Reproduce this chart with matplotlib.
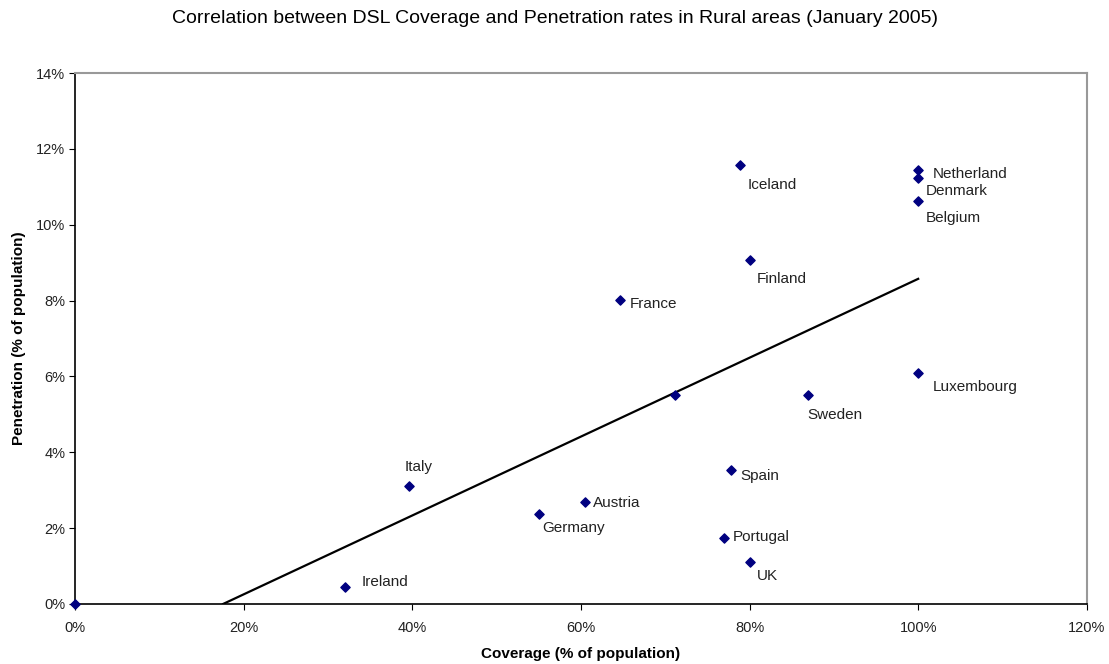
import matplotlib
matplotlib.use("Agg")
import matplotlib.pyplot as plt
from matplotlib.ticker import PercentFormatter
import numpy as np

plt.rcParams['font.family'] = ['Liberation Sans', 'DejaVu Sans']

# coverage / penetration, % of population
countries = ['', 'Ireland', 'Italy', 'Germany', 'Austria', 'France', '',
             'Portugal', 'Spain', 'UK', 'Iceland', 'Finland', 'Sweden',
             'Luxembourg', 'Netherland', 'Denmark', 'Belgium']
coverage = [0, 32.0, 39.6, 55.0, 60.5, 64.6, 71.2, 77.0, 77.8, 80.1,
            78.9, 80.0, 86.9, 100, 100, 100, 100]
penetration = [0, 0.45, 3.11, 2.37, 2.69, 8.02, 5.51, 1.74, 3.54, 1.11,
               11.58, 9.08, 5.51, 6.09, 11.45, 11.24, 10.63]

# label offsets in pixels (dx, dy)
offsets = [(0, 0), (17, 5), (-4, 19), (4, -14), (8, -1), (10, -4), (0, 0),
           (9, 1), (9, -6), (6, -14), (7, -20), (7, -19), (0, -20),
           (15, -14), (15, -4), (8, -13), (8, -17)]

fig = plt.figure(figsize=(11.09, 6.64), dpi=100)
ax = fig.add_axes([0.0676, 0.0904, 0.9124, 0.7996])

x = np.array(coverage)
y = np.array(penetration)

# linear trend, drawn from where it crosses zero to the max coverage
slope, intercept = np.polyfit(x, y, 1)
x0 = -intercept / slope
xt = np.array([x0, x.max()])
ax.plot(xt, slope * xt + intercept, color='black', lw=1.6, zorder=2)

ax.scatter(x, y, marker='D', s=22, color='#000080', zorder=3, clip_on=False)

for name, cx, cy, (dx, dy) in zip(countries, coverage, penetration, offsets):
    if name:
        ax.annotate(name, (cx, cy), xytext=(dx, dy), textcoords='offset pixels',
                    ha='left', va='center', fontsize=11, color='#222222')

ax.set_xlim(0, 120)
ax.set_ylim(0, 14)
ax.set_xticks(np.arange(0, 121, 20))
ax.set_yticks(np.arange(0, 15, 2))
ax.xaxis.set_major_formatter(PercentFormatter(decimals=0))
ax.yaxis.set_major_formatter(PercentFormatter(decimals=0))
ax.tick_params(labelsize=10.5, length=4, direction='out', colors='black',
               labelcolor='#222222')
ax.tick_params(axis='x', pad=8)
ax.tick_params(axis='y', pad=3)

for s in ['left', 'bottom']:
    ax.spines[s].set_color('black')
    ax.spines[s].set_linewidth(1.2)
for s in ['top', 'right']:
    ax.spines[s].set_color('#999999')
    ax.spines[s].set_linewidth(1.5)

ax.set_xlabel('Coverage (% of population)', fontsize=11, fontweight='bold', labelpad=9)
ax.set_ylabel('Penetration (% of population)', fontsize=11, fontweight='bold', labelpad=7)

fig.suptitle('Correlation between DSL Coverage and Penetration rates in Rural areas (January 2005)',
             y=0.985, fontsize=14)

fig.savefig('out.png', dpi=100, facecolor='white')
